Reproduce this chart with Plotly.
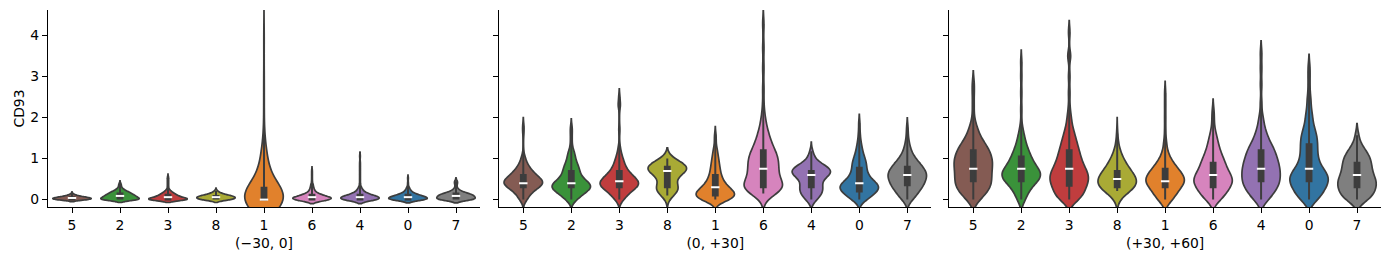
import colorsys
import numpy as np
import plotly.graph_objects as go

# ---------------- data ----------------
clusters = ["5", "2", "3", "8", "1", "6", "4", "0", "7"]
panel_labels = ["(\u221230, 0]", "(0, +30]", "(+30, +60]"]
y_label = "CD93"
y_ticks = [0, 1, 2, 3, 4]

# CD93 expression levels and number of cells at each level,
# one list per cluster (same order as `clusters`)

# window (-30, 0]
neg30_0_levels = [
    [0, 0.02, 0.04, 0.06, 0.08, 0.1, 0.12, 0.14],
    [0, 0.03, 0.06, 0.09, 0.12, 0.15, 0.18, 0.21, 0.24, 0.27, 0.3, 0.33, 0.36, 0.39],
    [0, 0.03, 0.06, 0.09, 0.12, 0.15, 0.18, 0.21, 0.25, 0.3, 0.35, 0.4, 0.45, 0.5, 0.55],
    [0, 0.03, 0.06, 0.09, 0.12, 0.15, 0.18, 0.21],
    [0, 0.05, 0.1, 0.15, 0.2, 0.25, 0.3, 0.35, 0.5, 0.7, 0.9, 1.1, 1.3, 1.8, 2.4, 3.0, 3.9],
    [0, 0.03, 0.06, 0.09, 0.12, 0.15, 0.2, 0.25, 0.3, 0.35, 0.4, 0.5, 0.6, 0.7],
    [0, 0.03, 0.06, 0.09, 0.12, 0.15, 0.2, 0.25, 0.3, 0.4, 0.5, 0.6, 0.7, 0.8, 0.9, 1.06],
    [0, 0.03, 0.06, 0.09, 0.12, 0.15, 0.2, 0.25, 0.3, 0.4, 0.52],
    [0, 0.03, 0.06, 0.09, 0.12, 0.15, 0.18, 0.22, 0.26, 0.3, 0.35, 0.4, 0.45],
]
neg30_0_cells = [
    [25, 20, 20, 15, 8, 5, 3, 1],
    [24, 12, 12, 12, 10, 8, 7, 5, 3, 2, 1, 1, 1, 1],
    [35, 15, 12, 10, 8, 6, 4, 3, 2, 1, 1, 1, 1, 1, 1],
    [22, 20, 20, 18, 10, 5, 3, 2],
    [62, 7, 6, 6, 5, 3, 2, 2, 5, 6, 5, 4, 2, 1, 1, 1, 1],
    [30, 18, 15, 10, 7, 5, 4, 3, 2, 2, 1, 1, 1, 1],
    [26, 16, 15, 12, 8, 6, 5, 3, 2, 1, 1, 1, 1, 1, 1, 1],
    [27, 16, 16, 13, 8, 7, 5, 3, 2, 1, 1],
    [22, 12, 12, 14, 12, 9, 6, 4, 2, 1, 1, 2, 2],
]

# window (0, +30]
p0_30_levels = [
    [0, 0.1, 0.2, 0.3, 0.4, 0.5, 0.6, 0.7, 0.8, 0.9, 1.0, 1.1, 1.65, 1.8],
    [0, 0.1, 0.2, 0.3, 0.4, 0.5, 0.6, 0.7, 0.8, 0.9, 1.0, 1.1, 1.2, 1.35, 1.5, 1.65, 1.77],
    [0, 0.1, 0.2, 0.3, 0.4, 0.5, 0.6, 0.7, 0.8, 0.9, 1.0, 1.1, 1.2, 1.3, 1.7, 2.3, 2.5],
    [0.1, 0.2, 0.3, 0.4, 0.5, 0.6, 0.7, 0.8, 0.9, 1.0],
    [0, 0.1, 0.2, 0.3, 0.4, 0.5, 0.6, 0.7, 0.8, 0.9, 1.0, 1.1, 1.2, 1.3, 1.45, 1.58],
    [0.15, 0.3, 0.45, 0.6, 0.75, 0.9, 1.05, 1.2, 1.35, 1.5, 1.65, 1.8, 2.0, 2.3, 2.7, 3.2, 3.7, 4.28],
    [0, 0.1, 0.2, 0.3, 0.4, 0.5, 0.6, 0.7, 0.8, 0.9, 1.0, 1.1, 1.18],
    [0, 0.1, 0.2, 0.3, 0.4, 0.5, 0.6, 0.7, 0.8, 0.9, 1.0, 1.1, 1.2, 1.3, 1.4, 1.5, 1.64, 1.86],
    [0, 0.1, 0.2, 0.3, 0.4, 0.5, 0.6, 0.7, 0.8, 0.9, 1.0, 1.1, 1.2, 1.3, 1.42, 1.55, 1.75],
]
p0_30_cells = [
    [4, 5, 8, 14, 20, 16, 11, 8, 5, 3, 2, 1, 1, 1],
    [5, 7, 12, 17, 14, 9, 7, 6, 6, 4, 3, 3, 2, 1, 1, 1, 1],
    [4, 6, 9, 15, 17, 14, 10, 7, 5, 4, 3, 2, 1, 1, 1, 2, 1],
    [5, 10, 11, 6, 5, 9, 18, 20, 12, 4],
    [15, 18, 16, 11, 8, 6, 5, 4, 4, 3, 3, 2, 2, 1, 1, 1],
    [8, 17, 9, 9, 9, 9, 9, 7, 5, 4, 3, 2, 2, 1, 1, 1, 1, 1],
    [5, 7, 9, 9, 7, 8, 14, 18, 12, 6, 2, 2, 1],
    [6, 9, 12, 16, 12, 8, 6, 5, 5, 5, 4, 3, 2, 2, 1, 1, 1, 1],
    [4, 5, 7, 9, 10, 11, 12, 11, 9, 7, 5, 3, 2, 2, 1, 1, 1],
]

# window (+30, +60]
p30_60_levels = [
    [0, 0.15, 0.3, 0.45, 0.6, 0.75, 0.9, 1.05, 1.2, 1.35, 1.5, 1.65, 1.8, 2.0, 2.3, 2.6, 2.84],
    [0, 0.15, 0.3, 0.45, 0.6, 0.75, 0.9, 1.05, 1.2, 1.35, 1.5, 1.65, 1.83, 2.2, 2.6, 3.0, 3.36],
    [0, 0.15, 0.3, 0.45, 0.6, 0.75, 0.9, 1.05, 1.2, 1.35, 1.5, 1.65, 1.8, 2.0, 2.25, 2.6, 3.0, 3.5, 4.08],
    [0.21, 0.3, 0.4, 0.5, 0.6, 0.7, 0.8, 0.9, 1.0, 1.1, 1.23, 1.4, 1.61],
    [0, 0.15, 0.3, 0.45, 0.6, 0.75, 0.9, 1.05, 1.2, 1.4, 1.7, 2.0, 2.3, 2.6],
    [0, 0.15, 0.3, 0.45, 0.6, 0.75, 0.9, 1.05, 1.2, 1.35, 1.5, 1.65, 1.83, 2.0, 2.17],
    [0, 0.15, 0.3, 0.45, 0.6, 0.75, 0.9, 1.05, 1.2, 1.35, 1.5, 1.65, 1.8, 2.0, 2.35, 2.8, 3.2, 3.57],
    [0, 0.15, 0.3, 0.45, 0.6, 0.75, 0.9, 1.05, 1.2, 1.35, 1.5, 1.65, 1.8, 2.0, 2.2, 2.45, 2.74, 3.0, 3.24],
    [0, 0.15, 0.3, 0.45, 0.6, 0.75, 0.9, 1.05, 1.2, 1.35, 1.57],
]
p30_60_cells = [
    [4, 7, 10, 10, 10, 10, 11, 10, 9, 7, 4, 3, 2, 1, 1, 1, 1],
    [4, 5, 8, 14, 18, 14, 10, 8, 6, 4, 3, 2, 1, 1, 1, 1, 1],
    [7, 9, 10, 12, 12, 10, 8, 7, 6, 5, 4, 3, 2, 2, 1, 1, 1, 2, 1],
    [10, 16, 16, 14, 11, 9, 7, 5, 4, 3, 2, 1, 1],
    [8, 10, 14, 20, 16, 12, 7, 4, 2, 2, 1, 1, 1, 1],
    [6, 10, 12, 16, 13, 10, 9, 7, 5, 4, 3, 2, 1, 1, 1],
    [5, 7, 10, 11, 11, 11, 10, 9, 8, 6, 4, 3, 2, 2, 1, 1, 1, 1],
    [6, 8, 10, 12, 12, 8, 6, 5, 5, 5, 5, 4, 3, 3, 2, 2, 1, 1, 1],
    [9, 12, 13, 14, 11, 10, 10, 9, 6, 3, 2],
]

panels = [
    (neg30_0_levels, neg30_0_cells),
    (p0_30_levels, p0_30_cells),
    (p30_60_levels, p30_60_cells),
]

# ---------------- styles ----------------
# kernel bandwidths (smoothing, per violin)
bandwidths = [
    [0.025, 0.035, 0.035, 0.035, 0.36, 0.05, 0.05, 0.04, 0.04],
    [0.1, 0.1, 0.1, 0.13, 0.1, 0.17, 0.11, 0.11, 0.12],
    [0.15, 0.14, 0.14, 0.195, 0.14, 0.14, 0.15, 0.15, 0.14],
]

tab10 = {
    "0": "#1f77b4", "1": "#ff7f0e", "2": "#2ca02c", "3": "#d62728", "4": "#9467bd",
    "5": "#8c564b", "6": "#e377c2", "7": "#7f7f7f", "8": "#bcbd22",
}


def desaturate(hexcol, prop=0.75):
    r, g, b = (int(hexcol[i:i + 2], 16) / 255 for i in (1, 3, 5))
    h, l, s = colorsys.rgb_to_hls(r, g, b)
    r, g, b = colorsys.hls_to_rgb(h, l, s * prop)
    return "rgb(%d,%d,%d)" % (round(r * 255), round(g * 255), round(b * 255))


GRAY = "#3d3d3d"
FONT = "DejaVu Sans"
FS = 13.9

W, H = 1390, 260
ML, MR, MT, MB = 48, 9, 10, 53
pw = W - ML - MR
domains = [
    [0.0, 432 / pw],
    [451.3 / pw, 883.3 / pw],
    [901.3 / pw, 1.0],
]

fig = go.Figure()

for p, (levels, cells) in enumerate(panels):
    xa = "x" if p == 0 else "x%d" % (p + 1)
    ya = "y" if p == 0 else "y%d" % (p + 1)
    med_x, med_y = [], []
    for i, c in enumerate(clusters):
        vals = np.repeat(levels[i], cells[i])
        xs = [c] * len(vals)
        fig.add_trace(go.Violin(
            x=xs, y=vals, xaxis=xa, yaxis=ya,
            width=0.8, fillcolor=desaturate(tab10[c]),
            line=dict(color=GRAY, width=1.7),
            box=dict(visible=False), meanline=dict(visible=False), points=False,
            spanmode="soft", bandwidth=bandwidths[p][i],
            scalemode="width", showlegend=False, hoverinfo="skip",
        ))
        fig.add_trace(go.Box(
            x=xs, y=vals, xaxis=xa, yaxis=ya,
            width=0.1, fillcolor=GRAY, line=dict(color=GRAY, width=2),
            whiskerwidth=0, boxpoints=False, showlegend=False, hoverinfo="skip",
        ))
        med_x.append(c)
        med_y.append(float(np.median(vals)))
    fig.add_trace(go.Scatter(
        x=med_x, y=med_y, xaxis=xa, yaxis=ya, mode="markers",
        marker=dict(symbol="line-ew", size=6, color="white",
                    line=dict(color="white", width=2)),
        showlegend=False, hoverinfo="skip",
    ))

axis_common = dict(
    showline=True, linecolor="black", linewidth=1.1,
    ticks="outside", ticklen=5, tickwidth=1.1, tickcolor="black",
    showgrid=False, zeroline=False,
    tickfont=dict(family=FONT, size=FS, color="black"),
)

layout = dict(
    width=W, height=H, margin=dict(l=ML, r=MR, t=MT, b=MB),
    plot_bgcolor="white", paper_bgcolor="white",
    violinmode="overlay", boxmode="overlay",
    font=dict(family=FONT, size=FS, color="black"),
)

for p in range(3):
    xk = "xaxis" if p == 0 else "xaxis%d" % (p + 1)
    yk = "yaxis" if p == 0 else "yaxis%d" % (p + 1)
    layout[xk] = dict(
        axis_common, domain=domains[p], type="category",
        categoryorder="array", categoryarray=clusters,
        range=[-0.5, 8.5], anchor="y" if p == 0 else "y%d" % (p + 1),
        title=dict(text=panel_labels[p], font=dict(family=FONT, size=FS, color="black"), standoff=6),
    )
    ydict = dict(
        axis_common, domain=[0, 1], range=[-0.18, 4.62],
        tickvals=y_ticks, anchor="x" if p == 0 else "x%d" % (p + 1),
    )
    if p == 0:
        ydict["title"] = dict(text=y_label, font=dict(family=FONT, size=FS, color="black"), standoff=2)
    else:
        ydict["matches"] = "y"
        ydict["showticklabels"] = False
    layout[yk] = ydict

fig.update_layout(**layout)
fig.write_html("out.html")
